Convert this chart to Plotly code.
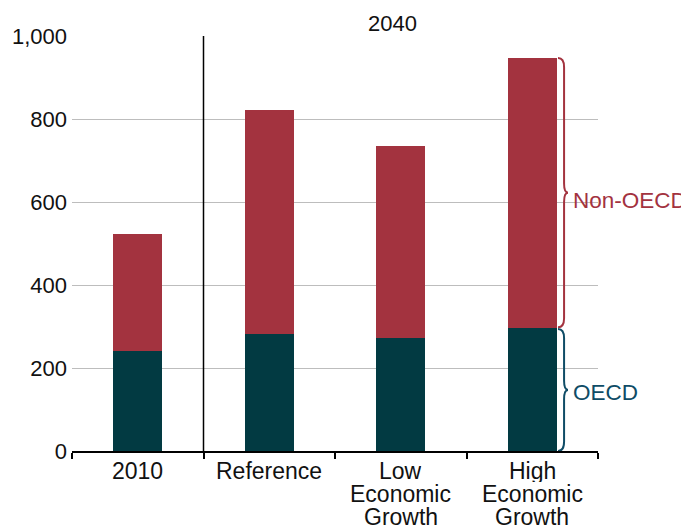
import plotly.graph_objects as go

categories = ["2010", "Reference", "Low<br>Economic<br>Growth", "High<br>Economic<br>Growth"]
oecd = [241, 283, 272, 296]
non_oecd = [282, 539, 463, 651]
y_ticks = [0, 200, 400, 600, 800, 1000]
group_label = "2040"

OECD_COL = "#023A42"
NON_COL = "#A3333F"
OECD_TXT = "#0F4C66"
FONT = "Liberation Sans, Arial, sans-serif"

fig = go.Figure()
fig.add_trace(go.Bar(x=categories, y=oecd, name="OECD", marker_color=OECD_COL,
                     marker_line_width=0, width=0.375))
fig.add_trace(go.Bar(x=categories, y=non_oecd, name="Non-OECD", marker_color=NON_COL,
                     marker_line_width=0, width=0.375))

fig.update_layout(
    barmode="stack",
    width=689, height=527,
    margin=dict(l=64, r=99, t=28, b=84, autoexpand=False),
    paper_bgcolor="white", plot_bgcolor="white",
    showlegend=False,
    font=dict(family=FONT, size=22, color="#111111"),
)
fig.update_xaxes(
    type="category", range=[-0.5, 3.5], tickson="boundaries", ticks="outside",
    ticklen=6, tickcolor="#000", tickwidth=1.5, showline=True, linecolor="#000",
    linewidth=1.5, showticklabels=False, showgrid=False, automargin=False,
)
fig.update_yaxes(
    range=[0, 1000], tickvals=y_ticks, tickformat=",", showgrid=True,
    gridcolor="#BDBDBD", gridwidth=1, zeroline=False, showline=False, ticks="",
    ticklabelstandoff=4, automargin=False,
)

# category labels, one annotation per line to keep tight spacing
for ci, c in enumerate(categories):
    for i, line in enumerate(c.split("<br>")):
        fig.add_annotation(x=ci, xref="x", y=0, yref="paper", text=line,
                           showarrow=False, yanchor="top", yshift=-7 - i * 23,
                           height=23, borderpad=0,
                           font=dict(size=23))

# separator between 2010 and 2040 scenarios
fig.add_shape(type="line", xref="x", yref="y", x0=0.5, x1=0.5, y0=0, y1=1000,
              line=dict(color="#000", width=1.5))
fig.add_annotation(x=2, xref="x", y=1, yref="paper", text=group_label,
                   showarrow=False, yanchor="bottom", xshift=-8, yshift=-2,
                   font=dict(size=22))

# braces on the last bar
def brace(yb, yt, color):
    x0, xm, xt = 0.924, 0.9355, 0.943
    d = 22
    ym = (yb + yt) / 2
    path = (f"M {x0},{yt} Q {xm},{yt} {xm},{yt - d} L {xm},{ym + d} "
            f"Q {xm},{ym} {xt},{ym} Q {xm},{ym} {xm},{ym - d} "
            f"L {xm},{yb + d} Q {xm},{yb} {x0},{yb}")
    fig.add_shape(type="path", xref="paper", yref="y", path=path,
                  line=dict(color=color, width=2))
    return ym

last_o = oecd[-1]
last_t = oecd[-1] + non_oecd[-1]
m1 = brace(last_o + 2, last_t, NON_COL)
m2 = brace(0, last_o - 2, OECD_TXT)
fig.add_annotation(x=0.948, xref="paper", y=m1, yref="y", text="Non-OECD",
                   showarrow=False, xanchor="left", yshift=-8,
                   font=dict(size=22.5, color=NON_COL))
fig.add_annotation(x=0.948, xref="paper", y=m2, yref="y", text="OECD",
                   showarrow=False, xanchor="left", yshift=-2,
                   font=dict(size=22.5, color=OECD_TXT))

fig.write_html("out.html")
